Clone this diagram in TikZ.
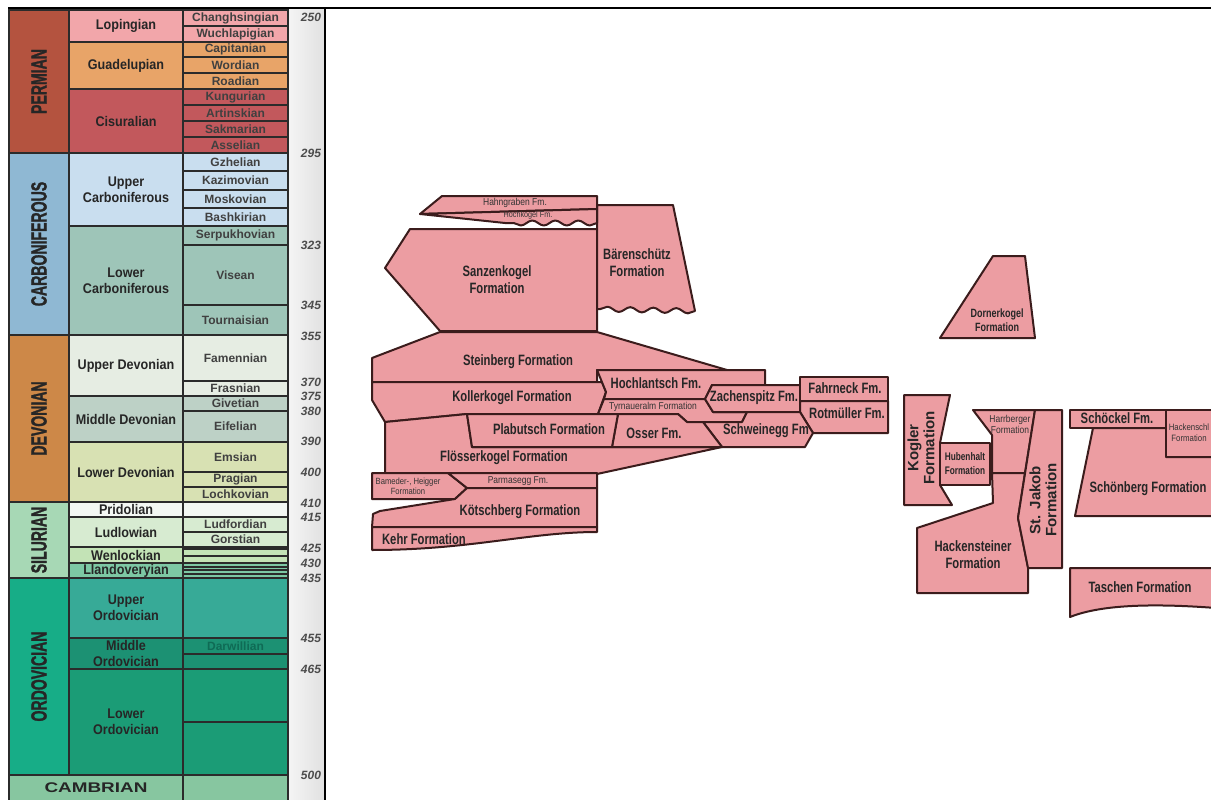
\documentclass[tikz,border=0pt]{standalone}
\usepackage{fontspec}
\setmainfont{Liberation Sans}
\newfontfamily\condfont[FakeStretch=0.75]{Liberation Sans}
\newfontfamily\tinyfont[FakeStretch=0.85]{Liberation Sans}
\newfontfamily\narrowfont[FakeStretch=0.64, FakeBold=1.2]{Liberation Sans}
\newfontfamily\widefont[FakeStretch=1.35]{Liberation Sans}
\newfontfamily\epochfont[FakeStretch=0.9]{Liberation Sans}
\usetikzlibrary{decorations.pathmorphing}

% time scale colours
\definecolor{permC}{HTML}{B4533F}
\definecolor{lopC}{HTML}{F2A6AA}
\definecolor{guaC}{HTML}{E8A468}
\definecolor{cisC}{HTML}{C2585C}
\definecolor{carbC}{HTML}{8FB8D3}
\definecolor{ucarC}{HTML}{C9DEEF}
\definecolor{lcarC}{HTML}{9EC5B8}
\definecolor{devC}{HTML}{CD8848}
\definecolor{udevC}{HTML}{E6EDE3}
\definecolor{mdevC}{HTML}{BDD1C6}
\definecolor{ldevC}{HTML}{D8E1B3}
\definecolor{silC}{HTML}{A7D8B5}
\definecolor{priC}{HTML}{F3F7F3}
\definecolor{ludC}{HTML}{D7EBD1}
\definecolor{wenC}{HTML}{C3E3B6}
\definecolor{llaC}{HTML}{7DC8A4}
\definecolor{ordC}{HTML}{17AD87}
\definecolor{uordC}{HTML}{37AA97}
\definecolor{mordC}{HTML}{1C9173}
\definecolor{lordC}{HTML}{1B9C76}
\definecolor{camC}{HTML}{87C6A0}
\definecolor{darC}{HTML}{0F6B55}
\definecolor{cellline}{HTML}{2B2B2B}
% formations
\definecolor{fmfill}{HTML}{EC9DA2}
\definecolor{fmline}{HTML}{3B1C1C}

\tikzset{
  cell/.style={draw=cellline, line width=1.5pt},
  periodtxt/.style={font=\narrowfont\bfseries\fontsize{22}{22}\selectfont, rotate=90, text=black!85, inner sep=0pt},
  epochtxt/.style={font=\epochfont\bfseries\fontsize{14}{16}\selectfont, align=center, text=black!85, inner sep=0pt},
  stagetxt/.style={font=\bfseries\fontsize{12}{12}\selectfont, text=black!75, inner sep=0pt},
  agetxt/.style={font=\bfseries\itshape\fontsize{12}{12}\selectfont, text=black!70, inner sep=0pt},
  fm/.style={draw=fmline, fill=fmfill, line width=2pt, line join=round},
  fmtxt/.style={font=\condfont\bfseries\fontsize{15}{17}\selectfont, align=center, text=black!85, inner sep=0pt},
  fmsmall/.style={font=\condfont\bfseries\fontsize{12}{14}\selectfont, align=center, text=black!85, inner sep=0pt},
  fmtiny/.style={font=\tinyfont\fontsize{10}{11}\selectfont, align=center, text=black!80, inner sep=0pt},
  fmrot/.style={font=\bfseries\fontsize{15}{16}\selectfont, align=center, rotate=90, text=black!85, inner sep=0pt},
  wave/.style={decoration={snake, amplitude=2.5, segment length=23}}
}

\begin{document}
\begin{tikzpicture}[x=1pt, y=-1pt]
\useasboundingbox (0,0) rectangle (1211,800);
\clip (0,0) rectangle (1211,800);
\fill[white] (0,0) rectangle (1211,800);

% ages column
\fill[left color=gray!8, right color=gray!24] (288,10) rectangle (325,805);
\draw[line width=1.5pt] (325,8) -- (325,805);
\draw[line width=1.2pt] (8,8) -- (1211,8);

% periods
\foreach \ya/\yb/\col/\txt in {10/153/permC/PERMIAN, 153/335/carbC/CARBONIFEROUS,
    335/502/devC/DEVONIAN, 502/578/silC/SILURIAN, 578/775/ordC/ORDOVICIAN} {
  \draw[cell, fill=\col] (9,\ya) rectangle (69,\yb);
  \node[periodtxt] (per\ya) at (39,{(\ya+\yb)/2}) {\txt};
}
\draw[cell, fill=camC] (9,775) rectangle (183,805);
\node[font=\widefont\bfseries\fontsize{14}{14}\selectfont, text=black!85] (cambrian) at (96,788) {CAMBRIAN};

% epochs
\foreach \ya/\yb/\col/\txt in {10/42/lopC/Lopingian, 42/89/guaC/Guadelupian, 89/153/cisC/Cisuralian,
    153/226/ucarC/{Upper\\Carboniferous}, 226/335/lcarC/{Lower\\Carboniferous},
    335/396/udevC/{Upper Devonian}, 396/442/mdevC/{Middle Devonian}, 442/502/ldevC/{Lower Devonian},
    502/517/priC/Pridolian, 517/547/ludC/Ludlowian, 547/563/wenC/Wenlockian, 563/578/llaC/Llandoveryian,
    578/638/uordC/{Upper\\Ordovician}, 638/669/mordC/{Middle\\Ordovician}, 669/775/lordC/{Lower\\Ordovician}} {
  \draw[cell, fill=\col] (69,\ya) rectangle (183,\yb);
  \node[epochtxt] (ep\ya) at (126,{(\ya+\yb)/2}) {\txt};
}

% stages
\foreach \ya/\yb/\col in {10/26/lopC, 26/42/lopC, 42/57/guaC, 57/73/guaC, 73/89/guaC,
    89/105/cisC, 105/121/cisC, 121/137/cisC, 137/153/cisC,
    153/171/ucarC, 171/190/ucarC, 190/208/ucarC, 208/226/ucarC, 226/245/lcarC, 245/305/lcarC, 305/335/lcarC,
    335/381/udevC, 381/396/udevC, 396/411/mdevC, 411/442/mdevC, 442/472/ldevC, 472/487/ldevC, 487/502/ldevC,
    502/517/priC, 517/532/ludC, 532/547/ludC, 547/549/wenC, 549/556/wenC, 556/563/wenC,
    563/567/llaC, 567/570/llaC, 570/574/llaC, 574/578/llaC,
    578/638/uordC, 638/654/mordC, 654/669/mordC, 669/722/lordC, 722/775/lordC, 775/805/camC} {
  \draw[cell, fill=\col] (183,\ya) rectangle (288,\yb);
}
\foreach \ya/\yb/\txt in {10/26/Changhsingian, 26/42/Wuchlapigian, 42/57/Capitanian, 57/73/Wordian,
    73/89/Roadian, 89/105/Kungurian, 105/121/Artinskian, 121/137/Sakmarian, 137/153/Asselian,
    153/171/Gzhelian, 171/190/Kazimovian, 190/208/Moskovian, 208/226/Bashkirian,
    226/245/Serpukhovian, 245/305/Visean, 305/335/Tournaisian,
    335/381/Famennian, 381/396/Frasnian, 396/411/Givetian, 411/442/Eifelian,
    442/472/Emsian, 472/487/Pragian, 487/502/Lochkovian, 517/532/Ludfordian, 532/547/Gorstian} {
  \node[stagetxt] (st\ya) at (235.5,{(\ya+\yb)/2}) {\txt};
}
\node[stagetxt, text=darC] (st638) at (235.5,646) {Darwillian};

% ages
\foreach \a/\y in {250/17, 295/153, 323/245, 345/305, 355/336, 370/382, 375/396, 380/411,
    390/441, 400/472, 410/503, 415/517, 425/548, 430/563, 435/578, 455/638, 465/669, 500/775} {
  \node[agetxt] (age\a) at (311,\y) {\a};
}

% formations, left group
\draw[fm] (410,229) -- (597,229) -- (597,331) -- (440,331) -- (385,268) -- cycle;
\node[fmtxt] (sanzenkogel) at (497,280) {Sanzenkogel\\Formation};
\draw[fm, wave] (597,205) -- (673,205) -- (695,311) decorate {-- (597,309)} -- cycle;
\node[fmtxt] (baerenschuetz) at (637,263) {Bärenschütz\\Formation};
\draw[fm] (420,214) -- (442,196) -- (597,196) -- (597,209) -- cycle;
\node[fmtiny] (hahngraben) at (515,203) {Hahngraben Fm.};
\draw[fm, wave] (420,214) -- (597,209) -- (597,223) decorate {-- (505,223)} -- cycle;
\node[fmtiny, font=\tinyfont\fontsize{8.5}{9}\selectfont] (hochkogel) at (528,215) {Hochkogel Fm.};

\draw[fm] (372,358) -- (440,332) -- (597,332) -- (727,370) -- (597,370) -- (597,382) -- (372,382) -- cycle;
\node[fmtxt] (steinberg) at (518,362) {Steinberg Formation};
\draw[fm] (372,382) -- (602,382) -- (606,392) -- (598,414) -- (467,414) -- (385,422) -- (372,400) -- cycle;
\node[fmtxt] (kollerkogel) at (512,398) {Kollerkogel Formation};
\draw[fm] (597,370) -- (765,370) -- (765,385) -- (712,385) -- (705,399) -- (604,399) -- (606,392) -- cycle;
\node[fmtxt] (hochlantsch) at (656,383) {Hochlantsch Fm.};
\draw[fm] (604,399) -- (705,399) -- (713,412) -- (747,412) -- (742,422) -- (687,422) -- (678,414) -- (598,414) -- cycle;
\node[fmtiny] (tyrnaueralm) at (653,407) {Tyrnaueralm Formation};
\draw[fm] (712,385) -- (800,385) -- (800,412) -- (713,412) -- (705,399) -- cycle;
\node[fmtxt] (zachenspitz) at (754,398) {Zachenspitz Fm.};
\draw[fm] (800,377) rectangle (888,401);
\node[fmtxt] (fahrneck) at (845,388) {Fahrneck Fm.};
\draw[fm] (800,401) -- (888,401) -- (888,433) -- (813,433) -- (800,412) -- cycle;
\node[fmtxt] (rotmueller) at (847,413) {Rotmüller Fm.};
\draw[fm] (385,422) -- (467,414) -- (472,447) -- (722,447) -- (597,474) -- (385,474) -- cycle;
\node[fmtxt] (floesserkogel) at (504,458) {Flösserkogel Formation};
\draw[fm] (703,422) -- (742,422) -- (747,412) -- (800,412) -- (813,433) -- (805,447) -- (722,447) -- cycle;
\node[fmtxt] (schweinegg) at (766,431) {Schweinegg Fm};
\draw[fm] (618,414) -- (678,414) -- (687,422) -- (703,422) -- (722,447) -- (612,447) -- cycle;
\node[fmtxt] (osser) at (654,433) {Osser Fm.};
\draw[fm] (467,414) -- (618,414) -- (612,447) -- (472,447) -- cycle;
\node[fmtxt] (plabutsch) at (549,429) {Plabutsch Formation};

\draw[fm] (372,473) -- (448,473) -- (467,488) -- (455,499) -- (372,499) -- cycle;
\node[fmtiny, font=\tinyfont\fontsize{9}{10}\selectfont] (bameder) at (408,486) {Bameder-, Heigger\\Formation};
\draw[fm] (448,473) -- (597,473) -- (597,488) -- (467,488) -- cycle;
\node[fmtiny] (parmasegg) at (518,481) {Parmasegg Fm.};
\draw[fm] (467,488) -- (597,488) -- (597,527) -- (372,527) -- (373,514) -- (380,511) -- (455,499) -- cycle;
\node[fmtxt] (koetschberg) at (520,512) {Kötschberg Formation};
\draw[fm] (372,527) -- (597,527) -- (597,532) .. controls (530,532) and (470,550) .. (372,550) -- cycle;
\node[fmtxt] (kehr) at (424,539) {Kehr Formation};

% formations, right group
\draw[fm] (993,256) -- (1025,256) -- (1035,338) -- (940,338) -- cycle;
\node[fmsmall] (dornerkogel) at (997,320) {Dornerkogel\\Formation};

\draw[fm] (904,395) -- (950,395) -- (940,443) -- (940,485) -- (952,505) -- (904,505) -- cycle;
\node[fmrot] (kogler) at (921,448) {Kogler\\Formation};
\draw[fm] (940,443) rectangle (990,485);
\node[fmsmall, font=\condfont\bfseries\fontsize{11}{14}\selectfont] (hubenhalt) at (965,464) {Hubenhalt\\Formation};
\draw[fm] (973,410) -- (1035,410) -- (1025,473) -- (992,473) -- (992,435) -- cycle;
\node[fmtiny] (harrberger) at (1010,424) {Harrberger\\Formation};
\draw[fm] (992,473) -- (1025,473) -- (1018,518) -- (1028,567) -- (1028,593) -- (917,593) -- (917,528) -- (993,503) -- cycle;
\node[fmtxt] (hackensteiner) at (973,555) {Hackensteiner\\Formation};
\draw[fm] (1035,410) -- (1062,410) -- (1062,568) -- (1028,568) -- (1018,518) -- cycle;
\node[fmrot] (stjakob) at (1043,500) {St. Jakob\\Formation};

\draw[fm] (1093,428) -- (1166,428) -- (1166,457) -- (1216,457) -- (1216,516) -- (1075,516) -- cycle;
\node[fmtxt] (schoenberg) at (1148,489) {Schönberg Formation};
\draw[fm] (1070,410) rectangle (1166,428);
\node[fmtxt] (schoeckel) at (1117,418) {Schöckel Fm.};
\draw[fm] (1166,410) rectangle (1216,457);
\node[fmtiny, font=\tinyfont\fontsize{9.2}{11}\selectfont] (hackenschl) at (1189,433) {Hackenschl\\Formation};
\draw[fm] (1070,568) -- (1216,568) -- (1216,608) .. controls (1150,603) and (1100,605) .. (1070,617) -- cycle;
\node[fmtxt] (taschen) at (1140,587) {Taschen Formation};
\end{tikzpicture}
\end{document}
